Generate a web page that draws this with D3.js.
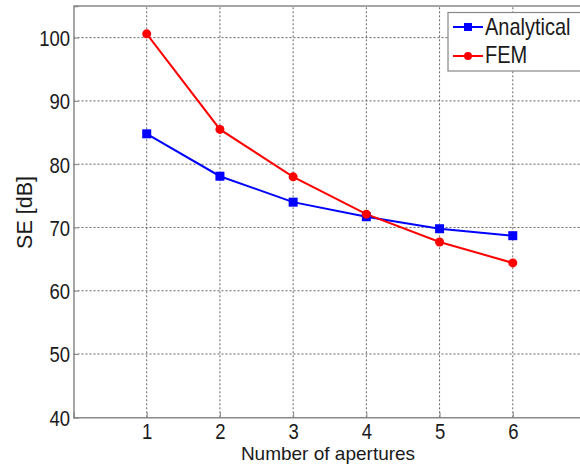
<!DOCTYPE html>
<html><head><meta charset="utf-8">
<script src="https://cdn.jsdelivr.net/npm/d3@7"></script>
<style>body{margin:0;background:#fff;} text{font-family:"Liberation Sans",Arial,sans-serif;fill:#1a1a1a;}</style>
</head><body>
<svg id="c" width="580" height="468"></svg>
<script>
const apertures = [1, 2, 3, 4, 5, 6];
const analytical = [84.8, 78.1, 74.0, 71.7, 69.8, 68.7];
const fem = [100.6, 85.5, 78.0, 72.1, 67.7, 64.4];
const xTicks = [1, 2, 3, 4, 5, 6];
const yTicks = [40, 50, 60, 70, 80, 90, 100];
const seriesNames = ["Analytical", "FEM"];

const svg = d3.select("#c");
const x = d3.scaleLinear().domain([0, 7]).range([73.5, 586]);
const y = d3.scaleLinear().domain([40, 105]).range([417.3, 6]);
const tfs = 18.5, sy = 1.2;

// grid
const g = svg.append("g");
g.selectAll("line.gx").data(xTicks).join("line")
  .attr("x1", d => x(d)).attr("x2", d => x(d)).attr("y1", y(40)).attr("y2", y(105))
  .attr("stroke", "#666").attr("stroke-width", 1).attr("stroke-dasharray", "2,2");
g.selectAll("line.gy").data(yTicks.filter(d => d > 40)).join("line")
  .attr("x1", x(0)).attr("x2", x(7)).attr("y1", d => y(d)).attr("y2", d => y(d))
  .attr("stroke", "#666").attr("stroke-width", 1).attr("stroke-dasharray", "2,2");

// axes
const xAxis = d3.axisBottom(x).tickValues(xTicks).tickSize(-5).tickFormat(d3.format("d"));
const yAxis = d3.axisLeft(y).tickValues(yTicks).tickSize(-5).tickFormat(d3.format("d"));
const xa = svg.append("g").attr("transform", `translate(0,${y(40)})`).call(xAxis);
const ya = svg.append("g").attr("transform", `translate(${x(0)},0)`).call(yAxis);
[xa, ya].forEach(a => {
  a.select(".domain").attr("stroke", "#888").attr("stroke-width", 1.5);
  a.selectAll(".tick line").attr("stroke", "#888");
  a.selectAll(".tick text").attr("font-size", tfs).attr("fill", "#1a1a1a").attr("dy", null);
});
xa.selectAll(".tick text").attr("y", 0).attr("transform", `translate(0,${438.5 - y(40)}) scale(1,${sy})`);
ya.selectAll(".tick text").attr("x", 0).attr("y", 0).attr("transform", `translate(-3.5,${0.358 * tfs * sy}) scale(1,${sy})`);

// top and right spines
svg.append("line").attr("x1", x(0)).attr("x2", x(7)).attr("y1", y(105)).attr("y2", y(105)).attr("stroke", "#888").attr("stroke-width", 1.5);
svg.append("line").attr("x1", x(7)).attr("x2", x(7)).attr("y1", y(105)).attr("y2", y(40)).attr("stroke", "#888").attr("stroke-width", 1.5);

// lines
const line = d3.line().x((d, i) => x(apertures[i])).y(d => y(d));
svg.append("path").datum(analytical).attr("d", line).attr("fill", "none").attr("stroke", "#0000ff").attr("stroke-width", 2);
svg.append("path").datum(fem).attr("d", line).attr("fill", "none").attr("stroke", "#ff0000").attr("stroke-width", 2);
svg.selectAll("rect.m").data(analytical).join("rect")
  .attr("x", (d, i) => x(apertures[i]) - 4.5).attr("y", d => y(d) - 4.5).attr("width", 9).attr("height", 9).attr("fill", "#0000ff");
svg.selectAll("circle.m").data(fem).join("circle")
  .attr("cx", (d, i) => x(apertures[i])).attr("cy", d => y(d)).attr("r", 4.5).attr("fill", "#ff0000");

// labels
svg.append("text").attr("x", 328).attr("y", 460).attr("text-anchor", "middle").attr("font-size", 19).text("Number of apertures");
svg.append("text").attr("transform", "translate(31.5,212.5) rotate(-90)").attr("text-anchor", "middle").attr("font-size", 21.5).text("SE [dB]");

// legend
const lg = svg.append("g");
lg.append("rect").attr("x", 448).attr("y", 12.5).attr("width", 140).attr("height", 58.5).attr("fill", "#fff").attr("stroke", "#888").attr("stroke-width", 1.2);
const colors = ["#0000ff", "#ff0000"];
const rowsY = [27, 56], baseY = [35, 63.3];
seriesNames.forEach((n, i) => {
  const yy = rowsY[i];
  lg.append("line").attr("x1", 453).attr("x2", 483).attr("y1", yy).attr("y2", yy).attr("stroke", colors[i]).attr("stroke-width", 2);
  if (i === 0) lg.append("rect").attr("x", 464).attr("y", yy - 4).attr("width", 8).attr("height", 8).attr("fill", colors[i]);
  else lg.append("circle").attr("cx", 468).attr("cy", yy).attr("r", 4).attr("fill", colors[i]);
  lg.append("text").attr("transform", `translate(485,${baseY[i]}) scale(1,${sy})`).attr("font-size", 20).text(n);
});
</script>
</body></html>
